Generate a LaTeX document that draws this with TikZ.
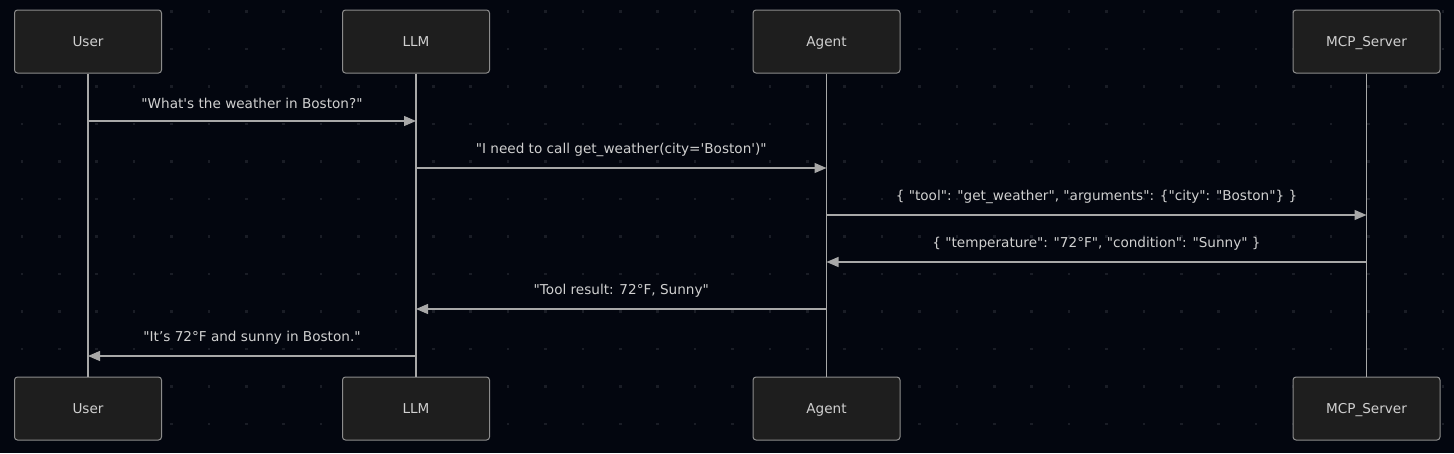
\documentclass[tikz,border=0pt]{standalone}
\usepackage{fontspec}
\setmainfont{DejaVu Sans}[Ligatures=TeXOff]
\usetikzlibrary{arrows.meta}
\definecolor{bgc}{HTML}{03060F}
\definecolor{dotc}{HTML}{1A1D26}
\definecolor{boxfill}{HTML}{1E1E1E}
\definecolor{boxline}{HTML}{8C8C8C}
\definecolor{txt}{HTML}{D0D0D0}
\definecolor{arr}{HTML}{A8A8A8}
\begin{document}
\begin{tikzpicture}[x=1pt, y=-1pt, every node/.style={font=\fontsize{13.6}{16}\selectfont, text=txt},
  actor/.style={draw=boxline, fill=boxfill, rounded corners=3pt, minimum width=147pt, minimum height=63pt, line width=1pt, text height=10pt, text depth=0pt},
  life/.style={draw=arr, line width=1.5pt},
  msg/.style={draw=arr, line width=1.2pt, -{Triangle[length=12pt,width=10pt]}},
  lbl/.style={midway, yshift=18pt}]
% background and dot grid
\fill[bgc] (0,0) rectangle (1454,453);
\foreach \i in {0,...,38}
  \foreach \j in {0,...,11}
    \fill[dotc] (20.5+37.4*\i, 10+37.5*\j) rectangle +(2.6,2.6);
% participants
\node[actor] (userT) at (88,41.5) {User};
\node[actor] (llmT) at (416,41.5) {LLM};
\node[actor] (agentT) at (826.5,41.5) {Agent};
\node[actor] (mcpT) at (1366.5,41.5) {MCP\_Server};
\node[actor] (userB) at (88,408.5) {User};
\node[actor] (llmB) at (416,408.5) {LLM};
\node[actor] (agentB) at (826.5,408.5) {Agent};
\node[actor] (mcpB) at (1366.5,408.5) {MCP\_Server};
% lifelines
\draw[life] (userT) -- (userB);
\draw[life] (llmT) -- (llmB);
\draw[life] (agentT) -- (agentB);
\draw[life] (mcpT) -- (mcpB);
% message points
\coordinate (u1) at (88,121);   \coordinate (l1) at (416,121);
\coordinate (l2) at (416,168);  \coordinate (a2) at (826.5,168);
\coordinate (a3) at (826.5,215); \coordinate (m3) at (1366.5,215);
\coordinate (m4) at (1366.5,262); \coordinate (a4) at (826.5,262);
\coordinate (a5) at (826.5,309); \coordinate (l5) at (416,309);
\coordinate (l6) at (416,356);  \coordinate (u6) at (88,356);
% messages
\draw[msg] (u1) -- node[lbl] {"What's the weather in Boston?"} (l1);
\draw[msg] (l2) -- node[lbl] {"I need to call get\_weather(city='Boston')"} (a2);
\draw[msg] (a3) -- node[lbl] {\{ "tool": "get\_weather", "arguments": \{"city": "Boston"\} \}} (m3);
\draw[msg] (m4) -- node[lbl] {\{ "temperature": "72°F", "condition": "Sunny" \}} (a4);
\draw[msg] (a5) -- node[lbl] {"Tool result: 72°F, Sunny"} (l5);
\draw[msg] (l6) -- node[lbl] {"It’s 72°F and sunny in Boston."} (u6);
\end{tikzpicture}
\end{document}
